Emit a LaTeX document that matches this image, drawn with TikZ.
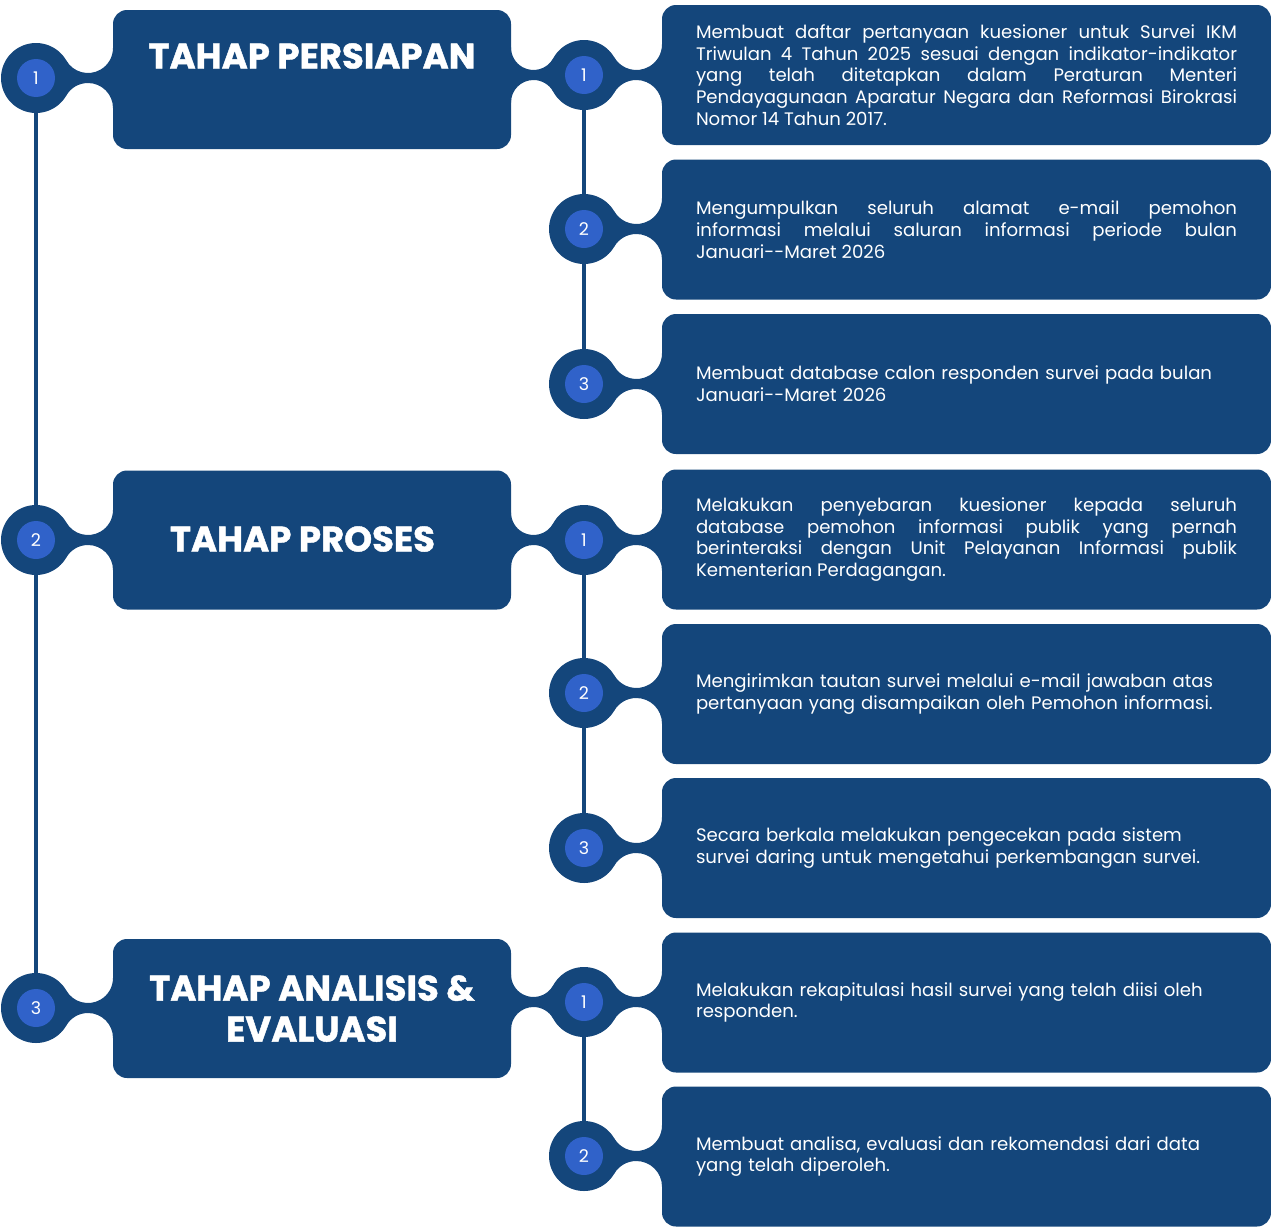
\documentclass[tikz,border=0pt]{standalone}
\usepackage{fontspec}
\setmainfont{Poppins}
\newfontfamily\heavy[FakeBold=1.2]{Poppins Bold}
\usetikzlibrary{calc}
\hyphenpenalty=10000
\exhyphenpenalty=10000
\tolerance=10000
\definecolor{dk}{RGB}{20,70,123}
\definecolor{bl}{RGB}{48,98,201}
\newcommand\myneck[4]{%
  \begin{scope}[shift={(#1,#2)},xscale=#4]
    \pgfmathsetmacro\nK{#3+30}
    \pgfmathsetmacro\nR{\nK-sqrt(\nK*\nK-(#3*#3-1225+25))}
    \pgfmathsetmacro\nS{#3-\nR}
    \pgfmathsetmacro\nH{5+\nR}
    \pgfmathsetmacro\nA{atan2(\nH,-\nS)}
    \fill[dk] (0,0) -- ($(\nS,-\nH)+(\nA:\nR)$) arc[start angle=\nA, end angle=0, radius=\nR]
      -- (#3+4,-\nH) -- (#3+4,\nH) -- (#3,\nH) arc[start angle=0, end angle=-\nA, radius=\nR] -- cycle;
  \end{scope}}
\tikzset{
  outerc/.style={circle, fill=dk, minimum size=70pt, inner sep=0pt},
  innerc/.style={circle, fill=bl, minimum size=38pt, inner sep=0pt, text=white, font=\fontsize{17.5}{20}\selectfont},
  vline/.style={dk, line width=4pt},
  bigbox/.style={fill=dk, rounded corners=14pt, minimum width=398pt, minimum height=139pt, inner sep=0pt},
  title/.style={text=white, font=\fontsize{35.5}{41}\selectfont\heavy, align=center, inner sep=0pt},
  itembox/.style={fill=dk, rounded corners=14pt, minimum width=609pt, minimum height=140pt, inner sep=0pt,
    text=white, text width=541pt, font=\fontsize{18.1}{21.7}\selectfont},
  jus/.style={itembox, align=justify},
  rag/.style={itembox, align=left},
}
\begin{document}
\begin{tikzpicture}[x=1pt,y=-1pt]
\useasboundingbox (0,0) rectangle (1271,1226);
% coordinates of circles
\coordinate (L1) at (36,78);
\coordinate (L2) at (36,540);
\coordinate (L3) at (36,1008);
\coordinate (A1) at (584,75);
\coordinate (A2) at (584,229);
\coordinate (A3) at (584,384);
\coordinate (B1) at (584,540);
\coordinate (B2) at (584,693);
\coordinate (B3) at (584,848);
\coordinate (C1) at (584,1002);
\coordinate (C2) at (584,1156);
% vertical lines
\draw[vline] (L1) -- (L3);
\draw[vline] (A1) -- (A3);
\draw[vline] (B1) -- (B3);
\draw[vline] (C1) -- (C2);
% necks
\myneck{36}{78}{77}{1}
\myneck{36}{540}{77}{1}
\myneck{36}{1008}{77}{1}
\myneck{584}{75}{73}{-1}
\myneck{584}{540}{73}{-1}
\myneck{584}{1002}{73}{-1}
\foreach \yy in {75,229,384,540,693,848,1002,1156}{\myneck{584}{\yy}{78}{1}}
% left boxes
\node[bigbox] (P1) at (312,79.5) {};
\node[bigbox] (P2) at (312,540) {};
\node[bigbox] (P3) at (312,1008.5) {};
\node[title] (T1) at (312,56) {TAHAP PERSIAPAN};
\node[title] (T2) at (302.5,539) {TAHAP PROSES};
\node[title] (T3) at (312,1008.5) {TAHAP ANALISIS \&\\EVALUASI};
% right boxes
\node[jus] (a1) at (966.5,75) {Membuat daftar pertanyaan kuesioner untuk Survei IKM\linebreak Triwulan 4 Tahun 2025 sesuai dengan indikator-indikator\linebreak yang telah ditetapkan dalam Peraturan Menteri\linebreak Pendayagunaan Aparatur Negara dan Reformasi Birokrasi\linebreak Nomor 14 Tahun 2017.};
\node[jus] (a2) at (966.5,229.5) {Mengumpulkan seluruh alamat e-mail pemohon\linebreak informasi melalui saluran informasi periode bulan\linebreak Januari-{}-Maret 2026};
\node[rag] (a3) at (966.5,384) {Membuat database calon responden survei pada bulan\\Januari-{}-Maret 2026};
\node[jus] (b1) at (966.5,539.5) {Melakukan penyebaran kuesioner kepada seluruh\linebreak database pemohon informasi publik yang pernah\linebreak berinteraksi dengan Unit Pelayanan Informasi publik\linebreak Kementerian Perdagangan.};
\node[rag] (b2) at (966.5,694) {Mengirimkan tautan survei melalui e-mail jawaban atas\\pertanyaan yang disampaikan oleh Pemohon informasi.};
\node[rag] (b3) at (966.5,848) {Secara berkala melakukan pengecekan pada sistem\\survei daring untuk mengetahui perkembangan survei.};
\node[rag] (c1) at (966.5,1002.5) {Melakukan rekapitulasi hasil survei yang telah diisi oleh\\responden.};
\node[rag] (c2) at (966.5,1156.5) {Membuat analisa, evaluasi dan rekomendasi dari data\\yang telah diperoleh.};
% circles
\foreach \c/\n in {L1/1,L2/2,L3/3,A1/1,A2/2,A3/3,B1/1,B2/2,B3/3,C1/1,C2/2}{
  \node[outerc] (\c o) at (\c) {};
  \node[innerc] (\c i) at (\c) {\n};
}
\end{tikzpicture}
\end{document}
